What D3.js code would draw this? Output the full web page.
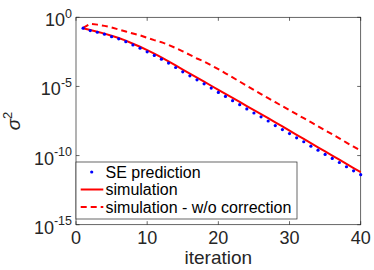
<!DOCTYPE html>
<html>
<head>
<meta charset="utf-8">
<script src="https://cdn.jsdelivr.net/npm/d3@7"></script>
<style>
  body { margin: 0; background: #fff; }
  svg { display: block; font-family: "Liberation Sans", Arial, sans-serif; }
</style>
</head>
<body>
<div id="graph"></div>
<script>
// iterations 1..40, values read as log10(sigma^2) off the log axis
const iterations = d3.range(1, 41);
const seLog10 = [-0.79, -0.96, -1.08, -1.22, -1.40, -1.56, -1.76, -2.00, -2.23, -2.50,
  -2.76, -3.03, -3.31, -3.63, -3.94, -4.23, -4.52, -4.81, -5.12, -5.43,
  -5.72, -6.03, -6.32, -6.63, -6.92, -7.20, -7.50, -7.83, -8.12, -8.41,
  -8.72, -9.00, -9.32, -9.61, -9.92, -10.21, -10.50, -10.81, -11.10, -11.38];
const simLog10 = [-0.79, -0.92, -1.04, -1.18, -1.34, -1.50, -1.69, -1.91, -2.13, -2.38,
  -2.63, -2.90, -3.18, -3.48, -3.78, -4.07, -4.36, -4.65, -4.95, -5.25,
  -5.54, -5.83, -6.12, -6.42, -6.71, -7.00, -7.30, -7.60, -7.89, -8.20,
  -8.50, -8.80, -9.10, -9.40, -9.70, -10.00, -10.30, -10.60, -10.90, -11.20];
const noCorrLog10 = [-0.77, -0.47, -0.53, -0.62, -0.73, -0.88, -1.03, -1.17, -1.30, -1.48,
  -1.65, -1.80, -2.00, -2.22, -2.46, -2.72, -2.98, -3.20, -3.47, -3.75,
  -4.05, -4.35, -4.65, -4.95, -5.25, -5.55, -5.85, -6.14, -6.43, -6.72,
  -7.01, -7.30, -7.59, -7.88, -8.17, -8.46, -8.76, -9.06, -9.36, -9.65];
const xTicks = [0, 10, 20, 30, 40];
const yTickExps = [0, -5, -10, -15];
const legendLabels = ['SE prediction', 'simulation', 'simulation - w/o correction'];

const width = 374, height = 270;
const margin = { top: 17.3, right: 13.3, bottom: 45.3, left: 76 };
const w = width - margin.left - margin.right;
const h = height - margin.top - margin.bottom;
const axisColor = '#262626';

const svg = d3.select('#graph').append('svg')
  .attr('width', width)
  .attr('height', height);

const plot = svg.append('g')
  .attr('transform', 'translate(' + margin.left + ',' + margin.top + ')');

const x = d3.scaleLinear().domain([0, 40]).range([0, w]);
const y = d3.scaleLog().domain([1e-15, 1]).range([h, 0]);

const toPoints = arr => arr.map((v, i) => ({ it: iterations[i], val: Math.pow(10, v) }));
const line = d3.line().x(d => x(d.it)).y(d => y(d.val));

// box
plot.append('rect')
  .attr('width', w).attr('height', h)
  .attr('fill', 'none')
  .attr('stroke', axisColor)
  .attr('stroke-width', 0.7);

// ticks, inward on all four sides
const tickLen = 3.5;
xTicks.forEach(t => {
  plot.append('line').attr('x1', x(t)).attr('x2', x(t)).attr('y1', h).attr('y2', h - tickLen)
    .attr('stroke', axisColor).attr('stroke-width', 0.7);
  plot.append('line').attr('x1', x(t)).attr('x2', x(t)).attr('y1', 0).attr('y2', tickLen)
    .attr('stroke', axisColor).attr('stroke-width', 0.7);
});
yTickExps.forEach(e => {
  const yy = y(Math.pow(10, e));
  plot.append('line').attr('x1', 0).attr('x2', tickLen).attr('y1', yy).attr('y2', yy)
    .attr('stroke', axisColor).attr('stroke-width', 0.7);
  plot.append('line').attr('x1', w).attr('x2', w - tickLen).attr('y1', yy).attr('y2', yy)
    .attr('stroke', axisColor).attr('stroke-width', 0.7);
});

// tick labels
plot.selectAll('.xlab').data(xTicks).enter().append('text')
  .attr('x', d => x(d))
  .attr('y', h + 19.5)
  .attr('text-anchor', 'middle')
  .attr('font-size', 18)
  .attr('fill', axisColor)
  .text(d => d);

const ylab = plot.selectAll('.ylab').data(yTickExps).enter().append('text')
  .attr('x', -4)
  .attr('y', d => y(Math.pow(10, d)) + 9)
  .attr('text-anchor', 'end')
  .attr('fill', axisColor);
ylab.append('tspan').attr('font-size', 18).text('10');
ylab.append('tspan').attr('font-size', 12.5).attr('dy', -8.5).text(d => d === 0 ? '0' : '-' + (-d));

// axis labels
svg.append('text')
  .attr('x', margin.left + w / 2)
  .attr('y', 264)
  .attr('text-anchor', 'middle')
  .attr('font-size', 19)
  .attr('fill', axisColor)
  .text('iteration');

const sig = svg.append('text')
  .attr('transform', 'translate(20,' + (margin.top + h / 2) + ') rotate(-90)')
  .attr('text-anchor', 'middle')
  .attr('font-size', 19)
  .attr('fill', axisColor);
sig.append('tspan').attr('font-style', 'italic').text('σ');
sig.append('tspan').attr('font-size', 13).attr('dy', -8).text('2');

// series
plot.append('path')
  .datum(toPoints(noCorrLog10))
  .attr('d', line)
  .attr('fill', 'none')
  .attr('stroke', '#ff0000')
  .attr('stroke-width', 2)
  .attr('stroke-dasharray', '6,4');

plot.append('path')
  .datum(toPoints(simLog10))
  .attr('d', line)
  .attr('fill', 'none')
  .attr('stroke', '#ff0000')
  .attr('stroke-width', 2);

plot.selectAll('.se').data(toPoints(seLog10)).enter().append('circle')
  .attr('cx', d => x(d.it))
  .attr('cy', d => y(d.val))
  .attr('r', 1.6)
  .attr('fill', '#0000ff');

// legend
const lg = svg.append('g').attr('transform', 'translate(76,162)');
lg.append('rect')
  .attr('width', 221).attr('height', 57)
  .attr('fill', '#fff')
  .attr('stroke', axisColor)
  .attr('stroke-width', 0.7);
const rowY = [10, 27.5, 45];
lg.append('circle').attr('cx', 15.7).attr('cy', rowY[0]).attr('r', 1.6).attr('fill', '#0000ff');
lg.append('line').attr('x1', 4.7).attr('x2', 27.3).attr('y1', rowY[1]).attr('y2', rowY[1])
  .attr('stroke', '#ff0000').attr('stroke-width', 2);
lg.append('line').attr('x1', 4.7).attr('x2', 27.3).attr('y1', rowY[2]).attr('y2', rowY[2])
  .attr('stroke', '#ff0000').attr('stroke-width', 2).attr('stroke-dasharray', '6,4');
lg.selectAll('.lt').data(legendLabels).enter().append('text')
  .attr('x', 29.5)
  .attr('y', (d, i) => rowY[i] + 5.8)
  .attr('font-size', 16)
  .attr('fill', '#000')
  .text(d => d);
</script>
</body>
</html>
